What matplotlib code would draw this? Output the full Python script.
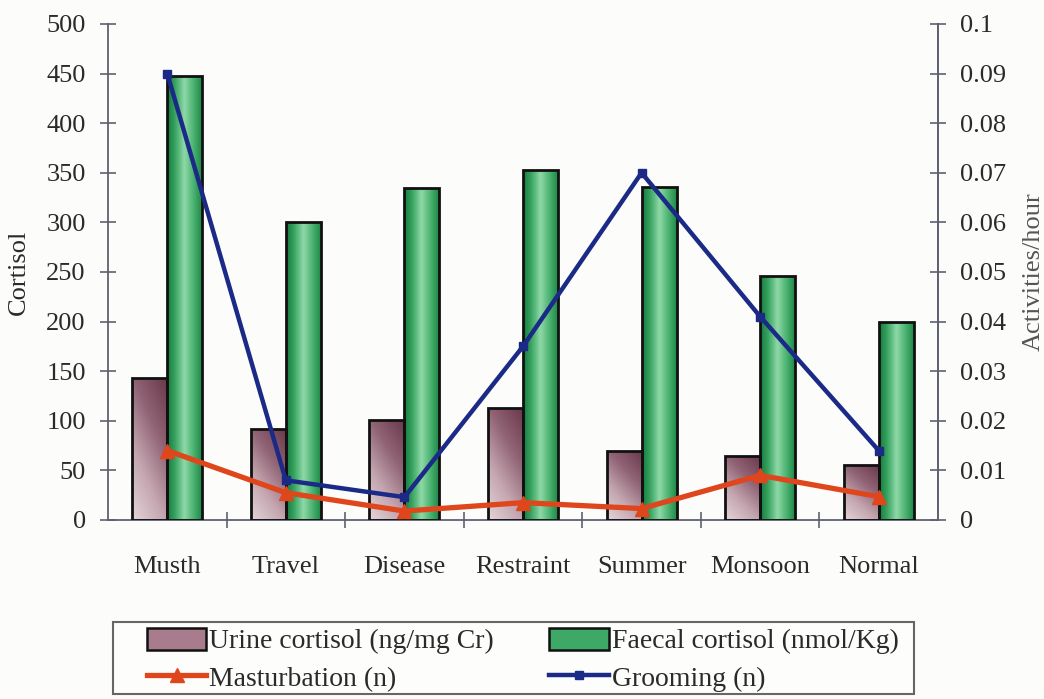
import numpy as np
import matplotlib
matplotlib.use("Agg")
import matplotlib.pyplot as plt
from matplotlib.colors import LinearSegmentedColormap
from matplotlib.patches import Patch, Rectangle
from matplotlib.lines import Line2D

categories = ["Musth", "Travel", "Disease", "Restraint", "Summer", "Monsoon", "Normal"]
urine_cortisol = [143, 92, 101, 113, 70, 65, 55]
faecal_cortisol = [448, 300, 335, 353, 336, 246, 200]
masturbation = [0.014, 0.0055, 0.0018, 0.0035, 0.0023, 0.009, 0.0047]
grooming = [0.090, 0.008, 0.0046, 0.035, 0.070, 0.041, 0.014]
left_ticks = [0, 50, 100, 150, 200, 250, 300, 350, 400, 450, 500]
right_ticks = [0, 0.01, 0.02, 0.03, 0.04, 0.05, 0.06, 0.07, 0.08, 0.09, 0.1]
right_labels = ["0", "0.01", "0.02", "0.03", "0.04", "0.05", "0.06", "0.07", "0.08", "0.09", "0.1"]

plt.rcParams["font.family"] = ["Liberation Serif", "DejaVu Serif"]
FS = 19
AX_COLOR = "#5f6170"
TXT = "#2a2a2a"

fig = plt.figure(figsize=(10.44, 6.99), dpi=100, facecolor="#fcfcfa")
ax = fig.add_axes([0.1034, 0.2561, 0.7951, 0.7096])
ax.set_facecolor("none")

x = np.arange(len(categories))
w = 0.295

urine_cmap = LinearSegmentedColormap.from_list(
    "urine", ["#6a3a4c", "#8f6274", "#c4a6b0", "#e4d4d8"])
faecal_cmap = LinearSegmentedColormap.from_list(
    "faecal", ["#137a3c", "#3ea866", "#8fd9a8", "#4fb574", "#1f8a48"])

def gradient_bars(xpos, heights, cmap, horizontal):
    bars = ax.bar(xpos, heights, width=w, facecolor="none",
                  edgecolor="#111111", linewidth=2.0, zorder=3)
    for b in bars:
        x0, y0 = b.get_x(), b.get_y()
        bw, bh = b.get_width(), b.get_height()
        if horizontal:
            grad = np.linspace(0, 1, 64).reshape(1, -1)
        else:
            gx = np.linspace(0, 0.35, 32).reshape(1, -1)
            gy = np.linspace(1, 0, 64).reshape(-1, 1) * 0.65
            grad = 1 - (gx + gy)
        im = ax.imshow(grad, cmap=cmap, aspect="auto",
                       extent=[x0, x0 + bw, y0, y0 + bh],
                       origin="upper", zorder=2, interpolation="bilinear")
        im.set_clip_path(b)
    return bars

gradient_bars(x - w / 2, urine_cortisol, urine_cmap, horizontal=False)
gradient_bars(x + w / 2, faecal_cortisol, faecal_cmap, horizontal=True)

ax.set_xlim(-0.5, len(categories) - 0.5)
ax.set_ylim(0, 500)
ax.set_yticks(left_ticks)
ax.set_xticks(x)
ax.set_xticklabels(categories)
ax.set_xticks(x[:-1] + 0.5, minor=True)
ax.tick_params(axis="x", which="major", length=0, pad=26, labelsize=FS, labelcolor=TXT)
ax.tick_params(axis="x", which="minor", direction="inout", length=12, width=1.2, color=AX_COLOR)
ax.tick_params(axis="y", direction="inout", length=12, width=1.2, color=AX_COLOR,
               labelsize=FS, labelcolor=TXT, pad=10)
ax.set_ylabel("Cortisol", fontsize=FS, color=TXT, labelpad=12)
ax.spines["top"].set_visible(False)
for s in ("left", "bottom", "right"):
    ax.spines[s].set_color(AX_COLOR)
    ax.spines[s].set_linewidth(1.3)

ax2 = ax.twinx()
ax2.set_ylim(0, 0.1)
ax2.set_yticks(right_ticks)
ax2.set_yticklabels(right_labels)
ax2.tick_params(axis="y", direction="inout", length=12, width=1.2, color=AX_COLOR,
                labelsize=FS, labelcolor=TXT, pad=10)
ax2.spines["top"].set_visible(False)
ax2.spines["right"].set_color(AX_COLOR)
ax2.spines["right"].set_linewidth(1.3)
ax2.spines["left"].set_visible(False)
ax2.spines["bottom"].set_visible(False)
ax2.set_ylabel("Activities/hour", fontsize=FS, color="#555555", labelpad=12)

ax2.plot(x, masturbation, color="#e0461c", linewidth=3.8, marker="^",
         markersize=10, zorder=5)
ax2.plot(x, grooming, color="#1b2a86", linewidth=3.2, marker="s",
         markersize=6, zorder=6)

# legend box drawn separately so the entries sit inset from its border
fig.patches.append(Rectangle((0.108, 0.007), 0.767, 0.103, transform=fig.transFigure,
                             facecolor="#fdfdfb", edgecolor="#666666",
                             linewidth=1.5, zorder=0))

handles = [
    Patch(facecolor="#a87c8c", edgecolor="#111111", linewidth=1.8),
    Line2D([], [], color="#e0461c", linewidth=3.8, marker="^", markersize=10),
    Patch(facecolor="#3ea866", edgecolor="#111111", linewidth=1.8),
    Line2D([], [], color="#1b2a86", linewidth=3.2, marker="s", markersize=6),
]
labels = ["Urine cortisol (ng/mg Cr)", "Masturbation (n)",
          "Faecal cortisol (nmol/Kg)", "Grooming (n)"]
leg = fig.legend(handles, labels, ncol=2, loc="upper left",
                 bbox_to_anchor=(0.1405, 0.102),
                 fontsize=20, frameon=False, handlelength=2.15,
                 handleheight=0.85, handletextpad=0.1, labelspacing=0.38,
                 columnspacing=2.0, borderaxespad=0, borderpad=0,
                 labelcolor=TXT)

fig.savefig("out.png", dpi=100, facecolor=fig.get_facecolor())
